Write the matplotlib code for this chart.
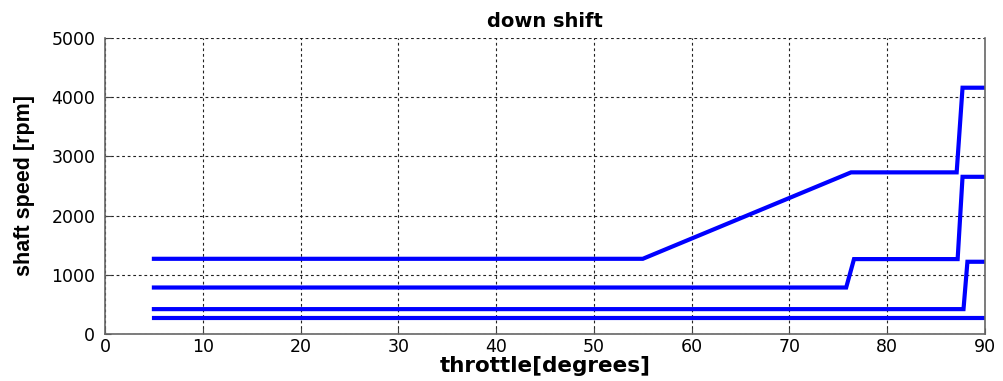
import matplotlib
matplotlib.use('Agg')
import matplotlib.pyplot as plt

# shift schedule curves: throttle [deg] vs shaft speed [rpm]
throttle_1 = [5, 55, 76.3, 87.1, 87.7, 90]
speed_1 = [1270, 1270, 2730, 2730, 4160, 4160]

throttle_2 = [5, 75.8, 76.6, 87.2, 87.7, 90]
speed_2 = [785, 785, 1265, 1265, 2655, 2655]

throttle_3 = [5, 87.8, 88.2, 90]
speed_3 = [420, 420, 1220, 1220]

throttle_4 = [5, 90]
speed_4 = [265, 265]

curves = [(throttle_1, speed_1), (throttle_2, speed_2),
          (throttle_3, speed_3), (throttle_4, speed_4)]

fig = plt.figure(figsize=(10.04, 3.81), dpi=100)
ax = fig.add_axes([0.1046, 0.1234, 0.8765, 0.7769])

for x, y in curves:
    ax.plot(x, y, color='#0000ff', linewidth=3, solid_joinstyle='miter')

ax.set_xlim(0, 90)
ax.set_ylim(0, 5000)
ax.set_xticks(range(0, 91, 10))
ax.set_yticks(range(0, 5001, 1000))
ax.grid(True, color='#222222', linestyle=(0, (2.5, 2.5)), linewidth=0.8)
ax.tick_params(direction='in', length=4, labelsize=12.5, colors='#444444')
ax.tick_params(axis='x', pad=3)
ax.tick_params(axis='y', pad=7)
for lbl in ax.get_xticklabels() + ax.get_yticklabels():
    lbl.set_family('DejaVu Sans')
    lbl.set_color('black')
ax.spines['top'].set_visible(False)
for s in ['left', 'right', 'bottom']:
    ax.spines[s].set_color('#666666')
    ax.spines[s].set_linewidth(1.2)

ax.set_title('down shift', fontsize=14, fontweight='bold', family='DejaVu Sans', pad=8)
ax.set_xlabel('throttle[degrees]', fontsize=15.5, fontweight='bold', family='DejaVu Sans', labelpad=0)
ax.set_ylabel('shaft speed [rpm]', fontsize=15.5, fontweight='bold', family='Liberation Sans', labelpad=12)

fig.savefig('out.png', dpi=100)
